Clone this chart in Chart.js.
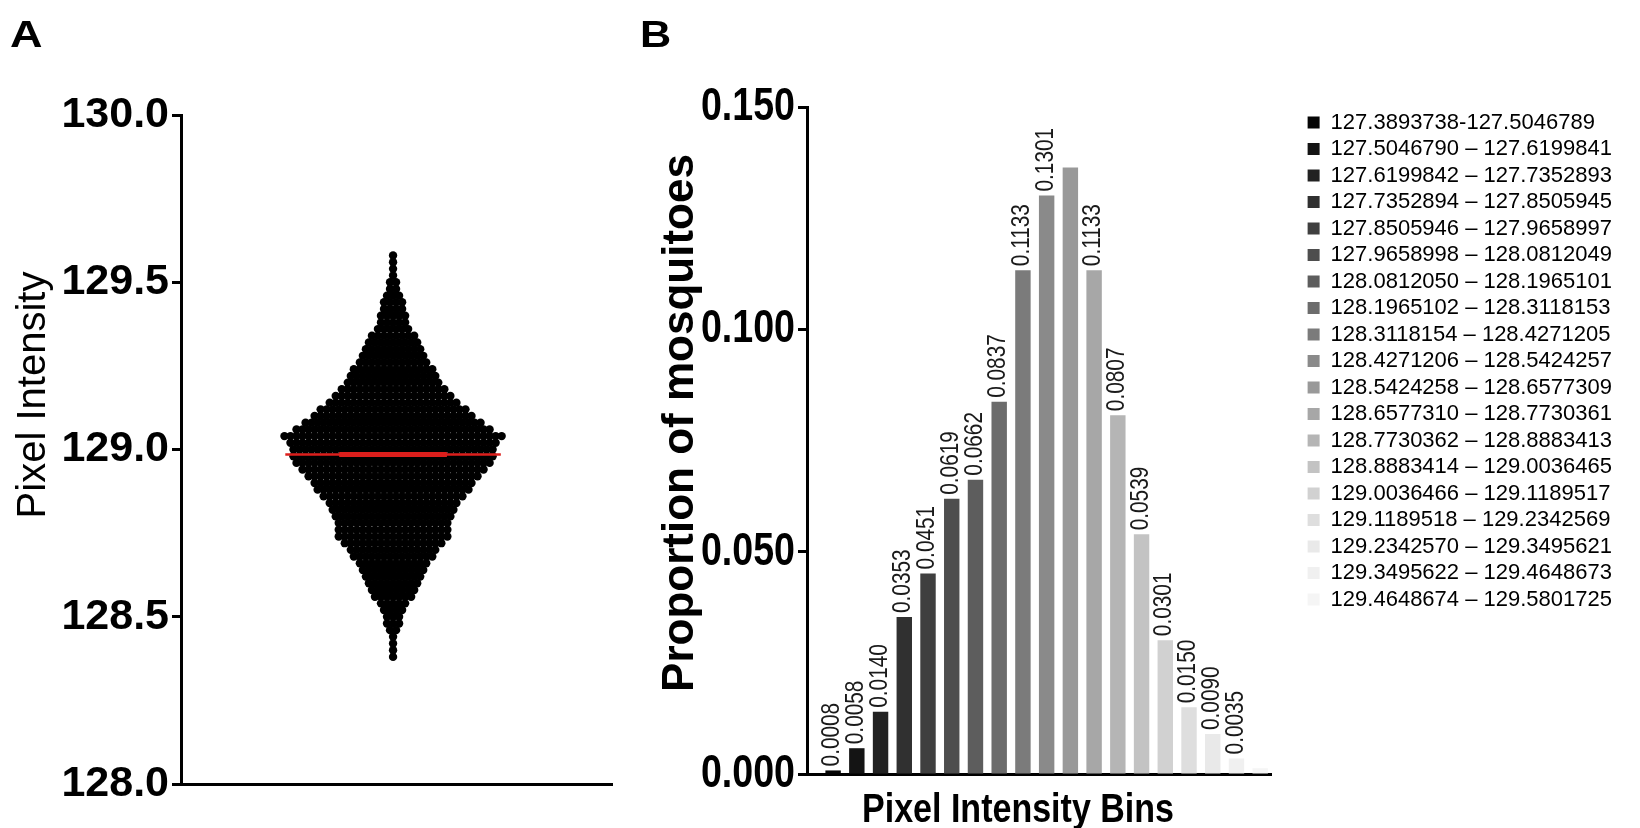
<!DOCTYPE html>
<html>
<head>
<meta charset="utf-8">
<title>Pixel intensity of mosquitoes</title>
<script src="https://cdn.jsdelivr.net/npm/chart.js@4.4.1/dist/chart.umd.min.js"></script>
<style>
  html, body { margin: 0; padding: 0; background: #fff; overflow: hidden; }
  #wrap { position: relative; width: 1640px; height: 828px; }
  #wrap canvas { position: absolute; left: 0; top: 0; }
</style>
</head>
<body>
<div id="wrap">
  <canvas id="swarm-chart" width="1640" height="828"></canvas>
  <canvas id="bins-chart" width="1640" height="828"></canvas>
</div>
<script>
"use strict";

////////  DATA ///////////

// Panel A: number of mosquitoes in each 0.02 row of the swarm
const swarm_levels = [
  129.58, 129.56, 129.54, 129.52, 129.50, 129.48, 129.46, 129.44, 129.42, 129.40,
  129.38, 129.36, 129.34, 129.32, 129.30, 129.28, 129.26, 129.24, 129.22, 129.20,
  129.18, 129.16, 129.14, 129.12, 129.10, 129.08, 129.06, 129.04, 129.02, 129.00,
  128.98, 128.96, 128.94, 128.92, 128.90, 128.88, 128.86, 128.84, 128.82, 128.80,
  128.78, 128.76, 128.74, 128.72, 128.70, 128.68, 128.66, 128.64, 128.62, 128.60,
  128.58, 128.56, 128.54, 128.52, 128.50, 128.48, 128.46, 128.44, 128.42, 128.40,
  128.38
];
const swarm_counts = [
  1, 1, 1, 1, 2, 2, 3, 4, 4, 5,
  5, 6, 8, 9, 10, 11, 12, 14, 15, 16,
  18, 20, 22, 25, 27, 30, 33, 37, 35, 34,
  34, 33, 31, 29, 27, 26, 24, 22, 21, 20,
  19, 19, 19, 17, 15, 14, 12, 11, 10, 9,
  8, 7, 5, 4, 3, 3, 2, 1, 1, 1,
  1
];
const mean_intensity = 128.985;

// Panel B: proportion of mosquitoes per intensity bin
const bin_ranges = [
  '127.3893738-127.5046789',
  '127.5046790 \u2013 127.6199841',
  '127.6199842 \u2013 127.7352893',
  '127.7352894 \u2013 127.8505945',
  '127.8505946 \u2013 127.9658997',
  '127.9658998 \u2013 128.0812049',
  '128.0812050 \u2013 128.1965101',
  '128.1965102 \u2013 128.3118153',
  '128.3118154 \u2013 128.4271205',
  '128.4271206 \u2013 128.5424257',
  '128.5424258 \u2013 128.6577309',
  '128.6577310 \u2013 128.7730361',
  '128.7730362 \u2013 128.8883413',
  '128.8883414 \u2013 129.0036465',
  '129.0036466 \u2013 129.1189517',
  '129.1189518 \u2013 129.2342569',
  '129.2342570 \u2013 129.3495621',
  '129.3495622 \u2013 129.4648673',
  '129.4648674 \u2013 129.5801725'
];
const bin_proportions = [
  0.0008, 0.0058, 0.0140, 0.0353, 0.0451, 0.0619, 0.0662, 0.0837, 0.1133, 0.1301,
  0.1364, 0.1133, 0.0807, 0.0539, 0.0301, 0.0150, 0.0090, 0.0035, 0.0013
];
// bars that carry no value label
const unlabelled_bins = [10, 18];

////////  STYLE ///////////
const font_family = '"Liberation Sans", Arial, Helvetica, sans-serif';
const bin_colors = [
  '#050505', '#141414', '#222222', '#303030', '#3f3f3f', '#4e4e4e', '#5d5d5d',
  '#6c6c6c', '#7b7b7b', '#8a8a8a', '#999999', '#a7a7a7', '#b5b5b5', '#c3c3c3',
  '#d1d1d1', '#dedede', '#e9e9e9', '#f0f0f0', '#f5f5f5'
];
const mean_red = '#dc1f1c';
const DOT_STEP = 0.028;   // horizontal spacing of swarm dots, in x units
const NARROW = 0.8;       // squeeze factor for the narrow lettering of panel B

Chart.defaults.font.family = font_family;
Chart.defaults.color = '#000';

//////// HELPERS /////////

// Free text (panel letters, axis titles) drawn on top of a chart.
// sx stretches or narrows the glyphs along the writing direction.
function make_text_plugin(items) {
  return {
    id: 'panelText',
    afterDraw(chart) {
      const ctx = chart.ctx;
      items.forEach(t => {
        ctx.save();
        ctx.fillStyle = '#000';
        ctx.font = t.font;
        ctx.textAlign = t.align || 'left';
        ctx.textBaseline = t.baseline || 'alphabetic';
        ctx.translate(t.x, t.y);
        if (t.rotate) ctx.rotate(t.rotate);
        if (t.sx) ctx.scale(t.sx, 1);
        ctx.fillText(t.text, 0, 0);
        ctx.restore();
      });
    }
  };
}

// Narrow y tick labels for panel B, placed on the scale's own ticks
const narrow_y_ticks = {
  id: 'narrowYTicks',
  afterDraw(chart) {
    const scale = chart.scales.y;
    const ctx = chart.ctx;
    ctx.save();
    ctx.font = 'bold 47px ' + font_family;
    ctx.fillStyle = '#000';
    ctx.textAlign = 'right';
    ctx.textBaseline = 'middle';
    scale.ticks.forEach(tick => {
      ctx.save();
      ctx.translate(scale.right - 12, scale.getPixelForValue(tick.value));
      ctx.scale(NARROW, 1);
      ctx.fillText(tick.value.toFixed(3), 0, 0);
      ctx.restore();
    });
    ctx.restore();
  }
};

// Rotated proportion written above each bar
const bar_value_labels = {
  id: 'barValueLabels',
  afterDatasetsDraw(chart) {
    const ctx = chart.ctx;
    const bars = chart.getDatasetMeta(0).data;
    ctx.save();
    ctx.font = '26px ' + font_family;
    ctx.fillStyle = '#1a1a1a';
    ctx.textAlign = 'left';
    ctx.textBaseline = 'middle';
    bars.forEach((bar, i) => {
      if (unlabelled_bins.includes(i)) return;
      ctx.save();
      ctx.translate(bar.x - 1, bar.y - 4);
      ctx.rotate(-Math.PI / 2);
      ctx.scale(NARROW, 1);
      ctx.fillText(bin_proportions[i].toFixed(4), 0, 0);
      ctx.restore();
    });
    ctx.restore();
  }
};

// Lay each row of the swarm side by side around x = 0
function build_swarm() {
  const pts = [];
  swarm_levels.forEach((level, i) => {
    const n = swarm_counts[i];
    for (let k = 0; k < n; k++) {
      pts.push({x: (k - (n - 1) / 2) * DOT_STEP, y: level});
    }
  });
  return pts;
}

const axis_border = {display: true, color: '#000', width: 3};
const tick_grid = {display: true, drawOnChartArea: false, drawTicks: true, tickLength: 9, tickWidth: 3, color: '#000'};

//////// PANEL A /////////
const swarm_chart = new Chart(document.getElementById('swarm-chart'), {
  type: 'scatter',
  data: {
    datasets: [
      {
        data: [{x: -0.5, y: mean_intensity}, {x: 0.5, y: mean_intensity}],
        showLine: true,
        borderColor: mean_red,
        borderWidth: 2.5,
        pointRadius: 0,
        order: 0
      },
      {
        data: [{x: -0.25, y: mean_intensity}, {x: 0.25, y: mean_intensity}],
        showLine: true,
        borderColor: mean_red,
        borderWidth: 5,
        pointRadius: 0,
        order: 0
      },
      {
        data: build_swarm(),
        pointRadius: 4.2,
        pointBackgroundColor: '#000',
        pointBorderWidth: 0,
        order: 1
      }
    ]
  },
  options: {
    responsive: false,
    animation: false,
    events: [],
    layout: {padding: {top: 115, right: 1028, bottom: 44, left: 0}},
    plugins: {
      legend: {display: false},
      tooltip: {enabled: false}
    },
    scales: {
      x: {
        type: 'linear',
        bounds: 'data',
        min: -0.984,
        max: 1.016,
        ticks: {display: false},
        grid: {display: false},
        border: axis_border,
        afterFit: s => { s.height = 0; }
      },
      y: {
        min: 128,
        max: 130,
        ticks: {
          stepSize: 0.5,
          padding: 3,
          color: '#000',
          font: {size: 43, weight: 'bold'},
          callback: v => v.toFixed(1)
        },
        grid: tick_grid,
        border: axis_border,
        afterFit: s => { s.width = 181; }
      }
    }
  },
  plugins: [make_text_plugin([
    {text: 'A', x: 10, y: 47, sx: 1.25, font: 'bold 36px ' + font_family},
    {text: 'Pixel Intensity', x: 34, y: 395, rotate: -Math.PI / 2, align: 'center', baseline: 'middle',
     font: '40px ' + font_family}
  ])]
});

//////// PANEL B /////////
const bins_chart = new Chart(document.getElementById('bins-chart'), {
  type: 'bar',
  data: {
    datasets: [{
      data: bin_proportions.map((v, i) => ({x: i + 1, y: v})),
      backgroundColor: bin_colors,
      borderWidth: 0,
      barPercentage: 0.65,
      categoryPercentage: 1
    }]
  },
  options: {
    responsive: false,
    animation: false,
    events: [],
    layout: {padding: {top: 107, right: 18, bottom: 54, left: 0}},
    plugins: {
      tooltip: {enabled: false},
      legend: {
        display: true,
        position: 'right',
        align: 'start',
        maxWidth: 420,
        labels: {
          boxWidth: 12,
          boxHeight: 12,
          padding: 4.5,
          color: '#111',
          font: {size: 22, weight: 'normal'},
          generateLabels: () => bin_ranges.map((text, i) => ({
            text: text,
            fillStyle: bin_colors[i],
            strokeStyle: bin_colors[i],
            lineWidth: 0,
            hidden: false,
            index: i,
            datasetIndex: 0
          }))
        }
      }
    },
    scales: {
      x: {
        type: 'linear',
        bounds: 'data',
        offset: false,
        min: -0.1,
        max: 19.46,
        ticks: {display: false},
        grid: {display: false},
        border: axis_border,
        afterFit: s => { s.height = 0; }
      },
      y: {
        min: 0,
        max: 0.15,
        ticks: {stepSize: 0.05, display: false},
        grid: tick_grid,
        border: axis_border,
        afterFit: s => { s.width = 807; }
      },
      // empty strip between the plot and the legend
      gap: {
        type: 'linear',
        position: 'right',
        ticks: {display: false},
        grid: {display: false},
        border: {display: false},
        afterFit: s => { s.width = 32; }
      }
    }
  },
  plugins: [bar_value_labels, narrow_y_ticks, make_text_plugin([
    {text: 'B', x: 640, y: 47, sx: 1.2, font: 'bold 36px ' + font_family},
    {text: 'Proportion of mosquitoes', x: 681, y: 423, rotate: -Math.PI / 2, align: 'center', baseline: 'middle',
     font: 'bold 44px ' + font_family},
    {text: 'Pixel Intensity Bins', x: 1018, y: 822, align: 'center', sx: 0.83, font: 'bold 41px ' + font_family}
  ])]
});
</script>
</body>
</html>
